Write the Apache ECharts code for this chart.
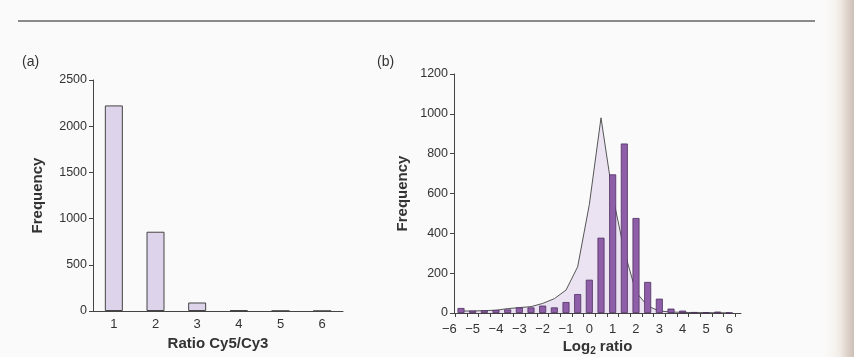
<!DOCTYPE html>
<html>
<head>
<meta charset="utf-8">
<script src="https://cdn.jsdelivr.net/npm/echarts@6/dist/echarts.min.js"></script>
<style>
html,body{margin:0;padding:0;background:#fafafa;}
#c{width:854px;height:357px;}
</style>
</head>
<body>
<div id="c"></div>
<script>
// Panel (a): ratio histogram
var ratioCats = ['1', '2', '3', '4', '5', '6'];
var ratioFreq = [2225, 858, 92, 8, 2, 1];

// Panel (b): log2 ratio histogram (bars) and reference polygon (line)
var logBins = [-5.5, -5, -4.5, -4, -3.5, -3, -2.5, -2, -1.5, -1, -0.5, 0, 0.5, 1, 1.5, 2, 2.5, 3, 3.5, 4, 4.5, 5, 5.5, 6];
var logFreq = [25, 12, 13, 15, 18, 28, 28, 37, 28, 55, 95, 167, 378, 696, 851, 477, 156, 72, 22, 12, 5, 4, 7, 2];
var lineFreq = [10, 10, 12, 14, 22, 27, 32, 48, 72, 115, 232, 545, 980, 590, 310, 105, 35, 10, 5, 3, 2, 2, 1, 1];
var logTickLabels = [-6, -5, -4, -3, -2, -1, 0, 1, 2, 3, 4, 5, 6];
var logBinEdges = [-5.75, -5.25, -4.75, -4.25, -3.75, -3.25, -2.75, -2.25, -1.75, -1.25, -0.75, -0.25, 0.25, 0.75, 1.25, 1.75, 2.25, 2.75, 3.25, 3.75, 4.25, 4.75, 5.25, 5.75, 6.25];

var FONT = 'Liberation Sans';
var AX = '#444';
var TXT = '#333';

var chart = echarts.init(document.getElementById('c'), null, {renderer: 'canvas'});

var barsB = logBins.map(function (x, i) { return [x, logFreq[i]]; });
var lineB = logBins.map(function (x, i) { return [x, lineFreq[i]]; });
var plain = function (v) { return String(v); };

var option = {
  backgroundColor: '#fafafa',
  animation: false,
  textStyle: {fontFamily: FONT},
  grid: [
    {left: 93, top: 80, width: 250, height: 231, containLabel: false, outerBoundsMode: 'none'},
    {left: 454, top: 74, width: 287, height: 239, containLabel: false, outerBoundsMode: 'none'},
    {left: 449.3, top: 74, width: 291.7, height: 239, containLabel: false, outerBoundsMode: 'none'}
  ],
  xAxis: [
    {
      gridIndex: 0, type: 'category', data: ratioCats,
      axisLine: {lineStyle: {color: AX, width: 1}},
      axisTick: {length: 4, lineStyle: {color: AX}},
      axisLabel: {color: TXT, fontSize: 13, margin: 7, fontFamily: FONT},
      name: 'Ratio Cy5/Cy3', nameLocation: 'middle', nameGap: 25,
      nameTextStyle: {color: TXT, fontSize: 15, fontWeight: 'bold', fontFamily: FONT}
    },
    {
      gridIndex: 1, type: 'value', min: -5.8, max: 6.5,
      splitLine: {show: false},
      axisLine: {onZero: false, lineStyle: {color: AX, width: 1}},
      axisTick: {show: true, length: 4, lineStyle: {color: AX}, customValues: logBinEdges},
      axisLabel: {show: false},
      name: '{a|Log}{s|2}{a| ratio}', nameLocation: 'middle', nameGap: 25,
      nameTextStyle: {
        color: TXT, fontFamily: FONT,
        rich: {
          a: {fontSize: 15, fontWeight: 'bold', color: TXT, fontFamily: FONT},
          s: {fontSize: 10, fontWeight: 'bold', color: TXT, fontFamily: FONT, verticalAlign: 'bottom', padding: [8, 0, 0, 0]}
        }
      }
    },
    {
      gridIndex: 2, type: 'value', min: -6, max: 6.5,
      splitLine: {show: false},
      axisLine: {show: false, onZero: false},
      axisTick: {show: false},
      axisLabel: {
        color: TXT, fontSize: 13, margin: 10, fontFamily: FONT,
        customValues: logTickLabels,
        formatter: function (v) { return String(v).replace('-', '\u2212'); }
      }
    }
  ],
  yAxis: [
    {
      gridIndex: 0, type: 'value', min: 0, max: 2500, interval: 500,
      splitLine: {show: false},
      axisLine: {show: true, onZero: false, lineStyle: {color: AX, width: 1}},
      axisTick: {show: true, length: 4, lineStyle: {color: AX}},
      axisLabel: {color: TXT, fontSize: 12.5, margin: 6, fontFamily: FONT, formatter: plain},
      name: 'Frequency', nameLocation: 'middle', nameGap: 48, nameRotate: 90,
      nameTextStyle: {color: TXT, fontSize: 15, fontWeight: 'bold', fontFamily: FONT}
    },
    {
      gridIndex: 1, type: 'value', min: 0, max: 1200, interval: 200,
      splitLine: {show: false},
      axisLine: {show: true, onZero: false, lineStyle: {color: AX, width: 1}},
      axisTick: {show: true, length: 4, lineStyle: {color: AX}},
      axisLabel: {color: TXT, fontSize: 12.5, margin: 6, fontFamily: FONT, formatter: plain},
      name: 'Frequency', nameLocation: 'middle', nameGap: 44, nameRotate: 90,
      nameTextStyle: {color: TXT, fontSize: 15, fontWeight: 'bold', fontFamily: FONT}
    },
    {
      gridIndex: 2, type: 'value', min: 0, max: 1200, show: false
    }
  ],
  series: [
    {
      type: 'bar', xAxisIndex: 0, yAxisIndex: 0, data: ratioFreq, barWidth: 18,
      itemStyle: {color: '#ddd3ea', borderColor: '#444', borderWidth: 1}
    },
    {
      type: 'line', xAxisIndex: 1, yAxisIndex: 1, data: lineB, symbol: 'none', z: 1,
      lineStyle: {color: '#555', width: 1},
      areaStyle: {color: '#ebe3f2', opacity: 1}
    },
    {
      type: 'bar', xAxisIndex: 1, yAxisIndex: 1, data: barsB, barWidth: 7, z: 3,
      itemStyle: {color: '#8f5ea9', borderColor: '#4d2f5e', borderWidth: 0.8}
    }
  ],
  graphic: [
    {type: 'line', shape: {x1: 18, y1: 21, x2: 815, y2: 21}, style: {stroke: '#8a8a8a', lineWidth: 2}, silent: true},
    {type: 'text', left: 22, top: 55, style: {text: '(a)', fontSize: 14, fontFamily: FONT, fill: TXT}},
    {type: 'text', left: 377, top: 55, style: {text: '(b)', fontSize: 14, fontFamily: FONT, fill: TXT}},
    {
      type: 'rect', shape: {x: 822, y: 0, width: 32, height: 357}, silent: true, z: -1,
      style: {
        fill: new echarts.graphic.LinearGradient(0, 0, 1, 0, [
          {offset: 0, color: 'rgba(250,248,245,0)'},
          {offset: 0.55, color: '#f1ebe6'},
          {offset: 0.8, color: '#ddd2ca'},
          {offset: 1, color: '#cbbfb6'}
        ])
      }
    }
  ]
};
chart.setOption(option);
</script>
</body>
</html>
